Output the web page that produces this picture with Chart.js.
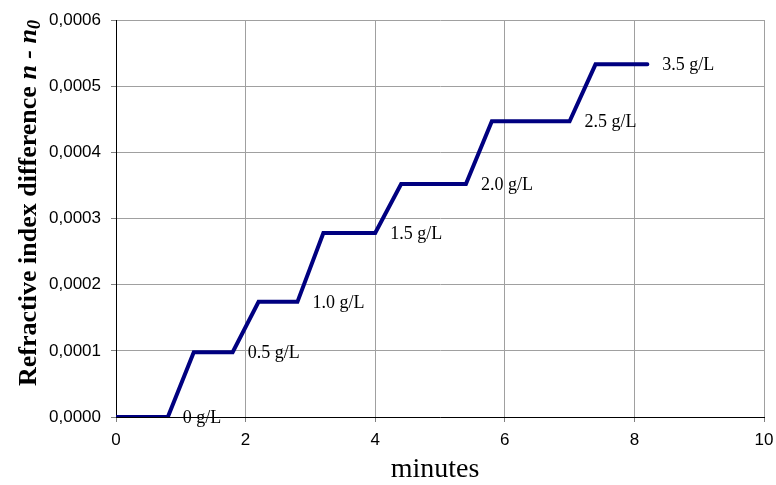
<!DOCTYPE html>
<html>
<head>
<meta charset="utf-8">
<script src="https://cdn.jsdelivr.net/npm/chart.js@4/dist/chart.umd.min.js"></script>
<style>
  html, body { margin: 0; padding: 0; background: #fff; }
  #wrap { width: 776px; height: 485px; }
</style>
</head>
<body>
<div id="wrap"><canvas id="riChart" width="776" height="485"></canvas></div>
<script>
// time (minutes) and refractive index difference
const minutes = [0, 0.8, 1.2, 1.8, 2.2, 2.8, 3.2, 4.0, 4.4, 5.4, 5.8, 7.0, 7.4, 8.2];
const deltaN = [0, 0, 0.000098, 0.000098, 0.000174, 0.000174, 0.000278, 0.000278,
                0.000352, 0.000352, 0.000447, 0.000447, 0.000533, 0.000533];

// concentration labels and the data point each one sits next to
const concLabels = ['0 g/L', '0.5 g/L', '1.0 g/L', '1.5 g/L', '2.0 g/L', '2.5 g/L', '3.5 g/L'];
const concX = [0.8, 1.8, 2.8, 4.0, 5.4, 7.0, 8.2];
const concY = [0, 0.000098, 0.000174, 0.000278, 0.000352, 0.000447, 0.000533];

const xTicks = [0, 2, 4, 6, 8, 10];
const yTicks = [0, 0.0001, 0.0002, 0.0003, 0.0004, 0.0005, 0.0006];

const serif = '"Liberation Serif", "Times New Roman", serif';
const sans = '"Liberation Sans", Arial, sans-serif';

const labelsPlugin = {
    id: 'concLabels',
    afterDatasetsDraw(chart) {
        const { ctx, scales } = chart;
        ctx.save();
        ctx.font = '18px ' + serif;
        ctx.fillStyle = '#000';
        ctx.textBaseline = 'middle';
        ctx.textAlign = 'left';
        concLabels.forEach((txt, i) => {
            const px = scales.x.getPixelForValue(concX[i]);
            const py = scales.y.getPixelForValue(concY[i]);
            ctx.fillText(txt, px + 15, py + 1);
        });
        ctx.restore();
    }
};

const titlesPlugin = {
    id: 'axisTitles',
    afterDraw(chart) {
        const { ctx } = chart;
        ctx.save();
        // x title
        ctx.font = '28px ' + serif;
        ctx.fillStyle = '#000';
        ctx.textAlign = 'center';
        ctx.textBaseline = 'middle';
        ctx.fillText('minutes', 435, 470);

        // y title, rotated, with italic n - n0
        ctx.translate(36, 203);
        ctx.rotate(-Math.PI / 2);
        const part1 = 'Refractive index difference ';
        const part2 = 'n - n';
        const part3 = '0';
        const f1 = 'bold 26px ' + serif;
        const f2 = 'bold italic 26px ' + serif;
        const f3 = 'bold italic 18px ' + serif;
        ctx.font = f1; const w1 = ctx.measureText(part1).width;
        ctx.font = f2; const w2 = ctx.measureText(part2).width;
        ctx.font = f3; const w3 = ctx.measureText(part3).width;
        let x0 = -(w1 + w2 + w3) / 2;
        ctx.textAlign = 'left';
        ctx.textBaseline = 'alphabetic';
        ctx.font = f1; ctx.fillText(part1, x0, 0); x0 += w1;
        ctx.font = f2; ctx.fillText(part2, x0, 0); x0 += w2;
        ctx.font = f3; ctx.fillText(part3, x0, 4);
        ctx.restore();
    }
};

new Chart(document.getElementById('riChart'), {
    type: 'line',
    data: {
        datasets: [{
            data: minutes.map((m, i) => ({ x: m, y: deltaN[i] })),
            borderColor: '#000080',
            borderWidth: 4,
            pointRadius: 0,
            tension: 0,
            fill: false,
            borderCapStyle: 'round'
        }]
    },
    options: {
        responsive: false,
        animation: false,
        layout: { padding: { top: 20, right: 12, left: 0, bottom: 0 } },
        plugins: {
            legend: { display: false },
            tooltip: { enabled: false }
        },
        scales: {
            x: {
                type: 'linear',
                min: 0,
                max: 10,
                afterBuildTicks(scale) { scale.ticks = xTicks.map(v => ({ value: v })); },
                afterFit(scale) {
                    scale.height = 68;
                    scale.paddingLeft = 0;
                    scale.paddingRight = 0;
                },
                grid: { color: '#a0a0a0', tickColor: '#808080', tickLength: 5 },
                border: { color: '#000', width: 1 },
                ticks: {
                    color: '#000',
                    font: { family: sans, size: 17 },
                    padding: 8,
                    maxRotation: 0
                }
            },
            y: {
                min: 0,
                max: 0.0006,
                afterBuildTicks(scale) { scale.ticks = yTicks.map(v => ({ value: v })); },
                afterFit(scale) {
                    scale.width = 116;
                    scale.paddingTop = 0;
                    scale.paddingBottom = 0;
                },
                grid: { color: '#a0a0a0', tickColor: '#808080', tickLength: 5 },
                border: { color: '#000', width: 1 },
                ticks: {
                    color: '#000',
                    font: { family: sans, size: 17 },
                    padding: 10,
                    callback: v => v.toFixed(4).replace('.', ',')
                }
            }
        }
    },
    plugins: [labelsPlugin, titlesPlugin]
});
</script>
</body>
</html>
